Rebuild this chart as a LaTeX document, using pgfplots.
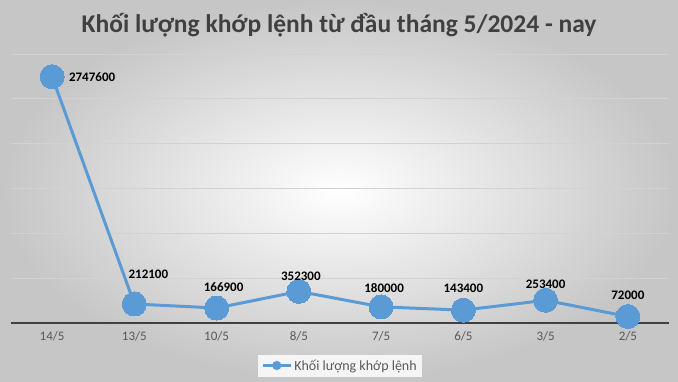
\documentclass[border=0pt]{standalone}
\usepackage{fontspec}
\setmainfont{Carlito}
\usepackage{pgfplots}
\pgfplotsset{compat=1.18}
\usepackage{pgfplotstable}
\definecolor{lineblue}{HTML}{5B9BD5}
\definecolor{titlegray}{HTML}{404040}
\definecolor{tickgray}{HTML}{595959}
\pgfplotstableread{
x y dx dy lab
0 2747600 40 0 2747600
1 212100 14 30 212100
2 166900 7 21 166900
3 352300 2 15 352300
4 180000 3 19 180000
5 143400 0 22 143400
6 253400 0 16 253400
7 72000 0 21 72000
}\data
\begin{document}
\begin{tikzpicture}[x=1pt,y=1pt]
\shade[inner color=white, outer color=gray!45] (0,0) rectangle (678,381);
\node[font=\bfseries\fontsize{25.5}{29}\selectfont, text=titlegray] at (339,356) {Khối lượng khớp lệnh từ đầu tháng 5/2024 - nay};
\begin{axis}[at={(11pt,58pt)}, anchor=south west, scale only axis, width=658pt, height=269pt,
  xmin=-0.5, xmax=7.5, ymin=0, ymax=3000000,
  scaled y ticks=false,
  xtick={0,...,7}, xticklabels={14/5,13/5,10/5,8/5,7/5,6/5,3/5,2/5},
  ytick={500000,1000000,...,3000000}, yticklabels={},
  extra y ticks={0}, extra y tick labels={},
  extra y tick style={grid style={line width=1.8pt, color=black!75}},
  ymajorgrids, grid style={gray!35, line width=0.8pt},
  axis line style={draw=none}, major tick length=0pt,
  xticklabel style={font=\fontsize{13}{15}\selectfont, text=tickgray},
  xticklabel shift=5pt,
  clip=false,
  legend entries={Khối lượng khớp lệnh},
  legend style={at={(0.5,-0.158)}, anchor=center, draw=none, fill=white!92!gray,
    font=\fontsize{14}{16}\selectfont, text=tickgray, inner sep=3pt},
  legend image code/.code={\draw[lineblue, line width=3pt] (0pt,0pt) -- (28pt,0pt); \fill[lineblue] (14pt,0pt) circle (3pt);},
]
\addplot[lineblue, line width=3pt, mark=*, mark size=12pt,
  mark options={fill=lineblue, draw=lineblue, line width=0pt},
  point meta=explicit symbolic,
  visualization depends on={\thisrow{dx} \as \dx},
  visualization depends on={\thisrow{dy} \as \dy},
  nodes near coords,
  every node near coord/.append style={anchor=center, xshift=\dx pt, yshift=\dy pt,
    font=\bfseries\fontsize{13}{15}\selectfont, text=black},
] table[x=x, y=y, meta=lab] {\data};
\end{axis}
\end{tikzpicture}
\end{document}
